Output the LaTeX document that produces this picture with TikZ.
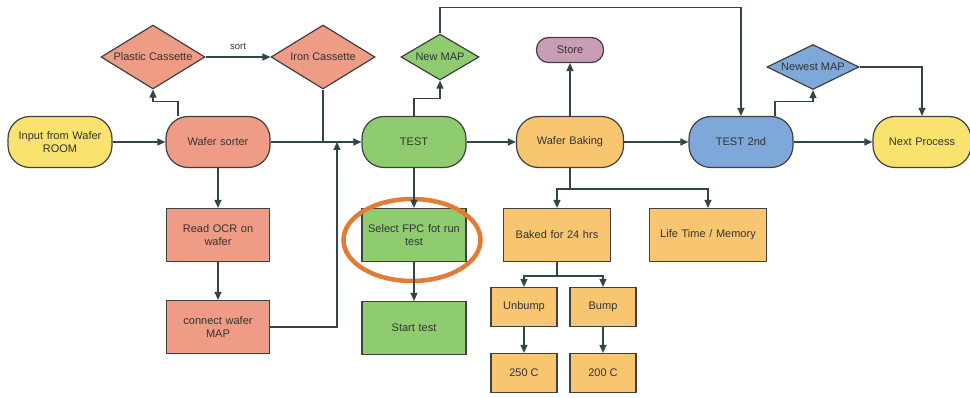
\documentclass[tikz,border=0pt]{standalone}
\usepackage{fontspec}
\setmainfont{Liberation Sans}
\usetikzlibrary{shapes.geometric,arrows.meta}

\definecolor{linecol}{HTML}{33444A}
\definecolor{edgecol}{HTML}{404040}
\definecolor{textcol}{HTML}{333333}
\definecolor{cyellow}{HTML}{F9E36E}
\definecolor{csalmon}{HTML}{EE9C85}
\definecolor{cgreen}{HTML}{8FCC70}
\definecolor{corange}{HTML}{F8C670}
\definecolor{cblue}{HTML}{7EA8D9}
\definecolor{cpurple}{HTML}{C99DB5}
\definecolor{cring}{HTML}{E27B36}

\begin{document}
\begin{tikzpicture}[x=1pt,y=-1pt,
    base/.style={draw=edgecol,line width=1.2pt,text=textcol,align=center,inner sep=0pt,
      font=\fontsize{11}{13.5}\selectfont},
    pill/.style={base,rounded corners=22pt,minimum width=104pt,minimum height=51pt,text width=98pt},
    boxy/.style={base,rectangle,minimum width=103pt,minimum height=53pt,text width=100pt},
    smallbox/.style={base,rectangle,minimum width=66pt,minimum height=39pt},
    dia/.style={base,diamond},
    flow/.style={draw=linecol,line width=1.2pt,-{Triangle[length=8pt,width=7pt]}},
    link/.style={draw=linecol,line width=1.2pt}]
  \useasboundingbox (0,0) rectangle (970,398);

  % top row
  \node[pill,fill=cyellow] (input) at (60,142) {Input from Wafer\\ROOM};
  \node[pill,fill=csalmon] (sorter) at (218,142) {Wafer sorter};
  \node[pill,fill=cgreen] (test) at (414,142) {TEST};
  \node[pill,fill=corange,minimum width=107pt] (baking) at (570,142) {Wafer Baking};
  \node[pill,fill=cblue] (test2) at (741,142) {TEST 2nd};
  \node[pill,fill=cyellow,minimum width=96pt] (next) at (922,142) {Next Process};

  % diamonds and store
  \node[dia,fill=csalmon,minimum width=104pt,minimum height=64pt] (plastic) at (153,57) {\makebox[0pt]{Plastic Cassette}};
  \node[dia,fill=csalmon,minimum width=104pt,minimum height=64pt] (iron) at (323,57) {\makebox[0pt]{Iron Cassette}};
  \node[dia,fill=cgreen,minimum width=78pt,minimum height=46pt] (newmap) at (440,57) {\makebox[0pt]{New MAP}};
  \node[dia,fill=cblue,minimum width=92pt,minimum height=45pt] (newest) at (813,67) {\makebox[0pt]{Newest MAP}};
  \node[base,fill=cpurple,rounded corners=12pt,minimum width=67pt,minimum height=25pt] (store) at (570,50) {Store};

  % lower boxes
  \node[boxy,fill=csalmon] (ocr) at (218,235) {Read OCR on\\wafer};
  \node[boxy,fill=csalmon] (connect) at (218,327) {connect wafer\\MAP};
  \node[boxy,fill=cgreen,minimum width=104pt] (select) at (414,235) {Select FPC fot run\\test};
  \node[boxy,fill=cgreen,minimum width=104pt] (start) at (414,328) {Start test};
  \node[boxy,fill=corange,minimum width=107pt] (baked) at (557,235) {Baked for 24 hrs};
  \node[boxy,fill=corange,minimum width=117pt,text width=114pt] (life) at (708,235) {Life Time / Memory};
  \node[smallbox,fill=corange] (unbump) at (524,307) {Unbump};
  \node[smallbox,fill=corange] (bump) at (603,307) {Bump};
  \node[smallbox,fill=corange] (c250) at (524,373) {250 C};
  \node[smallbox,fill=corange] (c200) at (603,373) {200 C};

  \node[draw=cring,line width=4.5pt,ellipse,minimum width=137pt,minimum height=82pt] (ring) at (412,240) {};

  \coordinate (join) at (323,142);
  \coordinate (merge) at (337,142);

  % connectors
  \draw[flow] (input) -- (sorter);
  \draw[flow] ([xshift=-40pt]sorter.north) -- ++(0,-14) -| (plastic.south);
  \draw[flow] (plastic) -- node[above=3pt,text=textcol,font=\fontsize{9.5}{10}\selectfont] (sortlbl) {sort} (iron);
  \draw[link] (iron.south) -- (join);
  \draw[flow] (sorter) -- (test);
  \draw[flow] (sorter) -- (ocr);
  \draw[flow] (ocr) -- (connect);
  \draw[flow] (connect.east) -| (merge);
  \draw[flow] (test.north) -- ++(0,-17) -| (newmap.south);
  \draw[flow] (newmap.north) -- ++(0,-26) -| (test2.north);
  \draw[flow] (test) -- (select);
  \draw[flow] (select) -- (start);
  \draw[flow] (test) -- (baking);
  \draw[flow] (baking) -- (store);
  \draw[flow] (baking) -- (test2);
  \draw[flow] (baking.south) -- ++(0,21) -| (baked.north);
  \draw[flow] (baking.south) -- ++(0,21) -| (life.north);
  \draw[flow] (baked.south) -- ++(0,14) -| (unbump.north);
  \draw[flow] (baked.south) -- ++(0,14) -| (bump.north);
  \draw[flow] (unbump) -- (c250);
  \draw[flow] (bump) -- (c200);
  \draw[flow] (test2) -- (next);
  \draw[flow] ([xshift=34pt]test2.north) -- ++(0,-14) -| (newest.south);
  \draw[flow] (newest.east) -| (next.north);
\end{tikzpicture}
\end{document}
